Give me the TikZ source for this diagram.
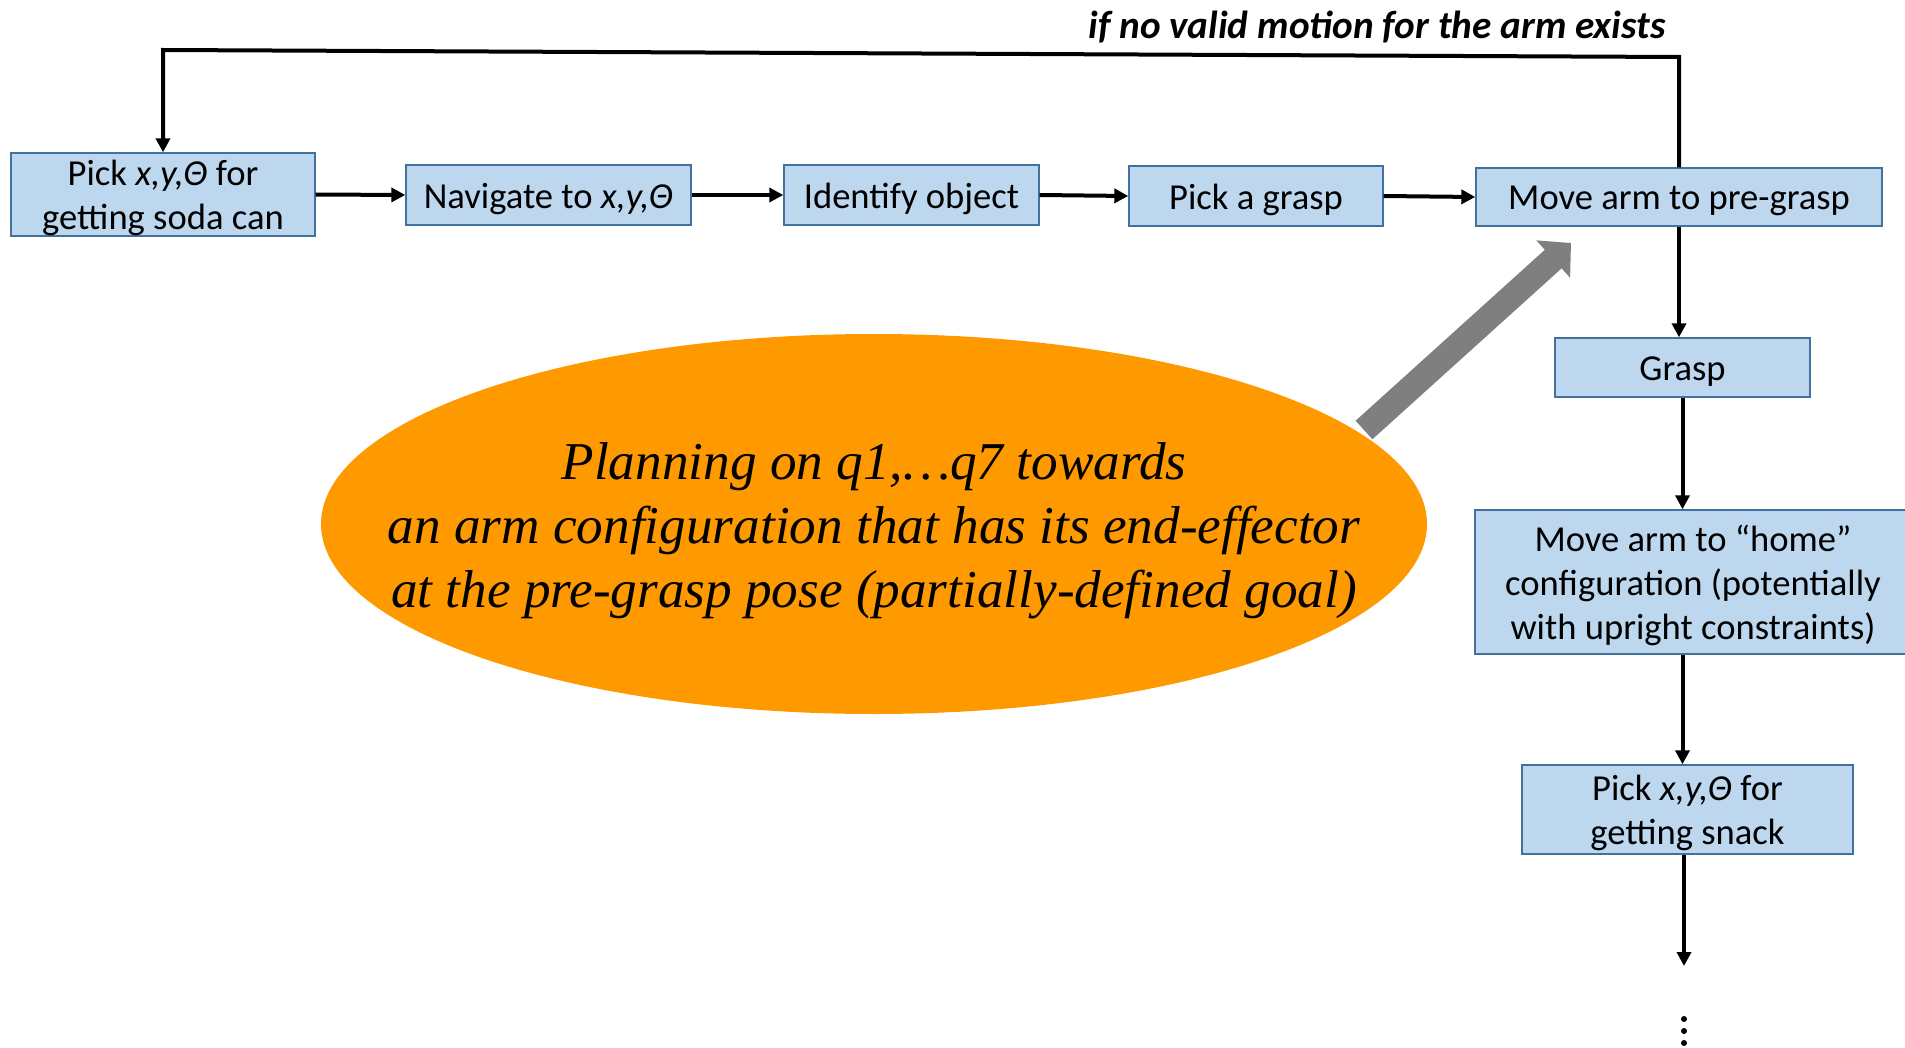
\documentclass[tikz,border=0pt]{standalone}
\usepackage{fontspec}
\setmainfont{Carlito}
\newfontfamily\goalfont{Liberation Serif}
\usetikzlibrary{arrows.meta,shapes.geometric}
\definecolor{boxfill}{HTML}{BDD7EE}
\definecolor{boxline}{HTML}{41719C}
\definecolor{goalorange}{HTML}{FF9900}
\definecolor{hintgray}{HTML}{7F7F7F}

% #1 name, #2 centre, #3 width, #4 height, #5 text
\newcommand\stepnode[5]{%
  \node[stepbox, minimum width=#3, minimum height=#4] (#1) at (#2) {};
  \node[steptext] (#1-text) at ([yshift=-1.8pt]#1.center) {#5};
}

\begin{document}
\begin{tikzpicture}[x=0.5pt,y=-0.5pt,
  stepbox/.style={draw=boxline, fill=boxfill, line width=0.7pt, inner sep=0pt},
  steptext/.style={align=center, inner sep=0pt,
    font=\fontsize{18.3pt}{22pt}\selectfont},
  flow/.style={line width=2pt, -{Triangle[length=7pt,width=7pt]}},
]
\useasboundingbox (0,0) rectangle (1905,1048);

% process steps
\stepnode{b1}{163,194.5}{152pt}{41.5pt}{Pick \textit{x,y,Θ} for\\getting soda can}
\stepnode{b2}{548.5,195}{142.5pt}{30pt}{Navigate to \textit{x,y,Θ}}
\stepnode{b3}{911.5,195}{127.5pt}{30pt}{Identify object}
\stepnode{b4}{1256,196}{127pt}{30pt}{Pick a grasp}
\stepnode{b5}{1679,197}{203pt}{29pt}{Move arm to pre-grasp}
\stepnode{b6}{1682.5,367.5}{127.5pt}{29.5pt}{Grasp}
\stepnode{b7}{1693,582}{218pt}{72pt}{Move arm to “home”\\configuration (potentially\\with upright constraints)}
\stepnode{b8}{1687.5,809.5}{165.5pt}{44.5pt}{Pick \textit{x,y,Θ} for\\getting snack}

% main flow
\draw[flow] (b1.east) -- (b2.west);
\draw[flow] (b2.east) -- (b3.west);
\draw[flow] (b3.east) -- (b4.west);
\draw[flow] (b4.east) -- (b5.west);
\draw[flow] (b5.south) -- (b5.south |- b6.north);
\draw[flow] (b6.south) -- (b6.south |- b7.north);
\draw[flow] (b6.south |- b7.south) -- (b6.south |- b8.north);
\coordinate (tail) at (1684,966);
\draw[flow] (tail |- b8.south) -- (tail);
\foreach \yy in {1019,1031,1043}
  \fill (1684,\yy) circle [radius=1.5pt];

% retry loop
\draw[flow] (b5.north) -- (b5.north |- 0,57) -- (b1.north |- 0,50) -- (b1.north);
\node[font=\bfseries\itshape\fontsize{19.6pt}{22pt}\selectfont, anchor=base]
  (cond) at (1377,39) {if no valid motion for the arm exists};

% planning goal
\node[ellipse, fill=goalorange, inner sep=0pt, minimum width=553pt,
  minimum height=190pt] (goal) at (874,524) {};
\node[align=center, font=\goalfont\itshape\fontsize{26.6pt}{32pt}\selectfont]
  (goaltext) at ([yshift=-3.6pt]goal.center)
  {Planning on q1,…q7 towards\\an arm configuration that has its end-effector\\at the pre-grasp pose (partially-defined goal)};
\coordinate (hintstart) at (1364,430);
\coordinate (hinttip) at (1571,243);
\draw[hintgray, line width=12.5pt, -{Triangle[length=12pt,width=24.5pt]}]
  (hintstart) -- (hinttip);
\end{tikzpicture}
\end{document}
